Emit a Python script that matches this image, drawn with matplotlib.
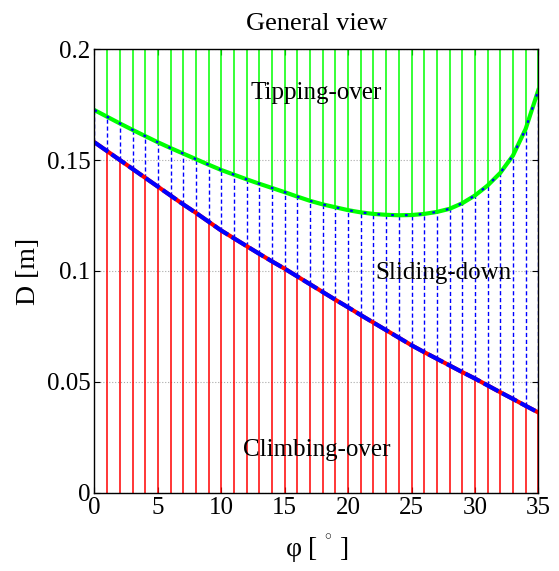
import matplotlib
matplotlib.use("Agg")
import matplotlib.pyplot as plt
import numpy as np

phi = list(range(0, 36))
d_lower = [0.1580, 0.1540, 0.1500, 0.1460, 0.1420, 0.1380, 0.1340, 0.1300, 0.1262, 0.1222,
           0.1182, 0.1147, 0.1112, 0.1077, 0.1043, 0.1010, 0.0975, 0.0940, 0.0905, 0.0870,
           0.0836, 0.0801, 0.0767, 0.0733, 0.0699, 0.0665, 0.0634, 0.0604, 0.0574, 0.0544,
           0.0515, 0.0484, 0.0453, 0.0423, 0.0392, 0.0362]
d_upper = [0.1725, 0.1695, 0.1665, 0.1636, 0.1608, 0.1580, 0.1554, 0.1529, 0.1504, 0.1479,
           0.1455, 0.1434, 0.1413, 0.1393, 0.1374, 0.1355, 0.1335, 0.1316, 0.1300, 0.1287,
           0.1274, 0.1264, 0.1257, 0.1253, 0.1251, 0.1252, 0.1257, 0.1266, 0.1280, 0.1305,
           0.1340, 0.1385, 0.1442, 0.1520, 0.1640, 0.1815]
d_max = 0.2
x_ticks = [0, 5, 10, 15, 20, 25, 30, 35]
y_ticks = [0, 0.05, 0.1, 0.15, 0.2]
y_ticklabels = ["0", "0.05", "0.1", "0.15", "0.2"]

plt.rcParams['font.family'] = ['Liberation Serif', 'DejaVu Serif']
plt.rcParams['mathtext.fontset'] = 'custom'
plt.rcParams['mathtext.rm'] = 'Liberation Serif'
plt.rcParams['mathtext.it'] = 'Liberation Serif:italic'

fig = plt.figure(figsize=(5.59, 5.71), dpi=100)
ax = fig.add_axes([0.169, 0.137, 0.794, 0.777])

x = np.array(phi)
lo = np.array(d_lower)
up = np.array(d_upper)

ax.vlines(x, 0, lo, colors='#ff0000', linewidth=1.1, zorder=2)
ax.vlines(x, lo, up, colors='#0000ff', linewidth=1.0, linestyles=(0, (3, 2)), zorder=2)
ax.vlines(x, up, d_max, colors='#00ff00', linewidth=1.1, zorder=2)

ax.plot(x, lo, color='#ff0000', linewidth=3.0, zorder=3)
ax.plot(x, lo, color='#0000ff', linewidth=3.0, linestyle=(0, (4, 1)), zorder=4)
ax.plot(x, up, color='#00ff00', linewidth=3.0, zorder=3)
ax.plot(x, up, color='#0000ff', linewidth=1.6, linestyle=(0, (1.2, 5)), zorder=4)

ax.set_xlim(0, 35)
ax.set_ylim(0, 0.2)
ax.set_xticks(x_ticks)
ax.set_yticks(y_ticks)
ax.set_yticklabels(y_ticklabels)
ax.tick_params(direction='in', top=True, right=True, labelsize=18, length=4, pad=3)
ax.yaxis.grid(True, linestyle=':', color='#aaaaaa', linewidth=0.8, zorder=0)
ax.set_axisbelow(True)
for s in ax.spines.values():
    s.set_linewidth(1.0)
    s.set_zorder(5)

ax.set_title("General view", fontsize=19, pad=14)
ax.set_ylabel("D [m]", fontsize=20, labelpad=4)
ax.set_xlabel(r"φ [ $^{^{\circ}}$ ]", fontsize=20, labelpad=10)

ax.text(17.5, 0.180, "Tipping-over", fontsize=18, ha='center', va='center', zorder=6)
ax.text(27.5, 0.099, "Sliding-down", fontsize=18, ha='center', va='center', zorder=6)
ax.text(17.5, 0.0194, "Climbing-over", fontsize=18, ha='center', va='center', zorder=6)

fig.savefig("out.png", dpi=100)
